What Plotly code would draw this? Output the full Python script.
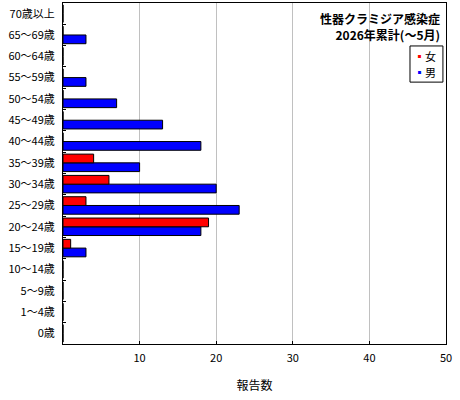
import plotly.graph_objects as go

categories = ["0歳", "1～4歳", "5～9歳", "10～14歳", "15～19歳", "20～24歳", "25～29歳",
              "30～34歳", "35～39歳", "40～44歳", "45～49歳", "50～54歳", "55～59歳",
              "60～64歳", "65～69歳", "70歳以上"]
female = [0, 0, 0, 0, 1, 19, 3, 6, 4, 0, 0, 0, 0, 0, 0, 0]
male = [0, 0, 0, 0, 3, 18, 23, 20, 10, 18, 13, 7, 3, 0, 3, 0]
x_ticks = [10, 20, 30, 40, 50]
title_lines = ["性器クラミジア感染症", "2026年累計(～5月)"]
series_names = ["女", "男"]
series_colors = ["#FF0000", "#0000FF"]

FONT = "Noto Sans CJK JP"

fig = go.Figure()
fig.add_trace(go.Bar(y=categories, x=male, orientation="h", name=series_names[1],
                     marker=dict(color=series_colors[1], line=dict(color="#000000", width=1)),
                     showlegend=False))
fig.add_trace(go.Bar(y=categories, x=female, orientation="h", name=series_names[0],
                     marker=dict(color=series_colors[0], line=dict(color="#000000", width=1)),
                     showlegend=False))

fig.update_layout(
    width=460, height=400,
    margin=dict(l=63, r=14, t=3, b=56, autoexpand=False),
    paper_bgcolor="white", plot_bgcolor="white",
    barmode="group", bargap=0.18, bargroupgap=0,
    font=dict(family=FONT, size=11, color="#000000"),
    showlegend=False,
    xaxis=dict(range=[0, 50], tickvals=x_ticks, ticktext=[str(v) for v in x_ticks],
               showgrid=True, gridcolor="#C0C0C0", gridwidth=1,
               showline=True, linecolor="#000000", linewidth=1, mirror=True,
               ticks="inside", ticklen=3, tickcolor="#000000", ticklabelstandoff=4,
               zeroline=False, fixedrange=True, automargin=False,
               title=dict(text="報告数", font=dict(family=FONT, size=12), standoff=17)),
    yaxis=dict(type="category", categoryorder="array", categoryarray=categories,
               showline=True, linecolor="#000000", linewidth=1, mirror=True,
               ticks="inside", ticklen=3, tickcolor="#000000", tickson="boundaries",
               showgrid=False, zeroline=False, ticklabelstandoff=5, automargin=False,
               fixedrange=True, tickfont=dict(family=FONT, size=11)),
)

# title
fig.add_annotation(xref="paper", yref="paper", x=0.99, y=0.985, xanchor="right", yanchor="top",
                   text="<b>" + "<br>".join(title_lines) + "</b>", showarrow=False, align="right",
                   font=dict(family=FONT, size=12, color="#000000"))

# compact legend: frame + one annotation per entry
fig.add_shape(type="rect", xref="paper", yref="paper", x0=0.906, x1=0.992, y0=0.768, y1=0.874,
              line=dict(color="#000000", width=1), fillcolor="white", layer="above")
for i, (n, c) in enumerate(zip(series_names, series_colors)):
    fig.add_annotation(xref="paper", yref="paper", x=0.915, y=0.846 - i * 0.047,
                       xanchor="left", yanchor="middle", showarrow=False, borderpad=0,
                       text=f"<span style='color:{c}'>▪</span>{n}",
                       font=dict(family=FONT, size=11, color="#000000"))

fig.write_html("out.html", config={"displayModeBar": False},
               post_script="document.body.style.margin='0';document.body.style.overflow='hidden';")
